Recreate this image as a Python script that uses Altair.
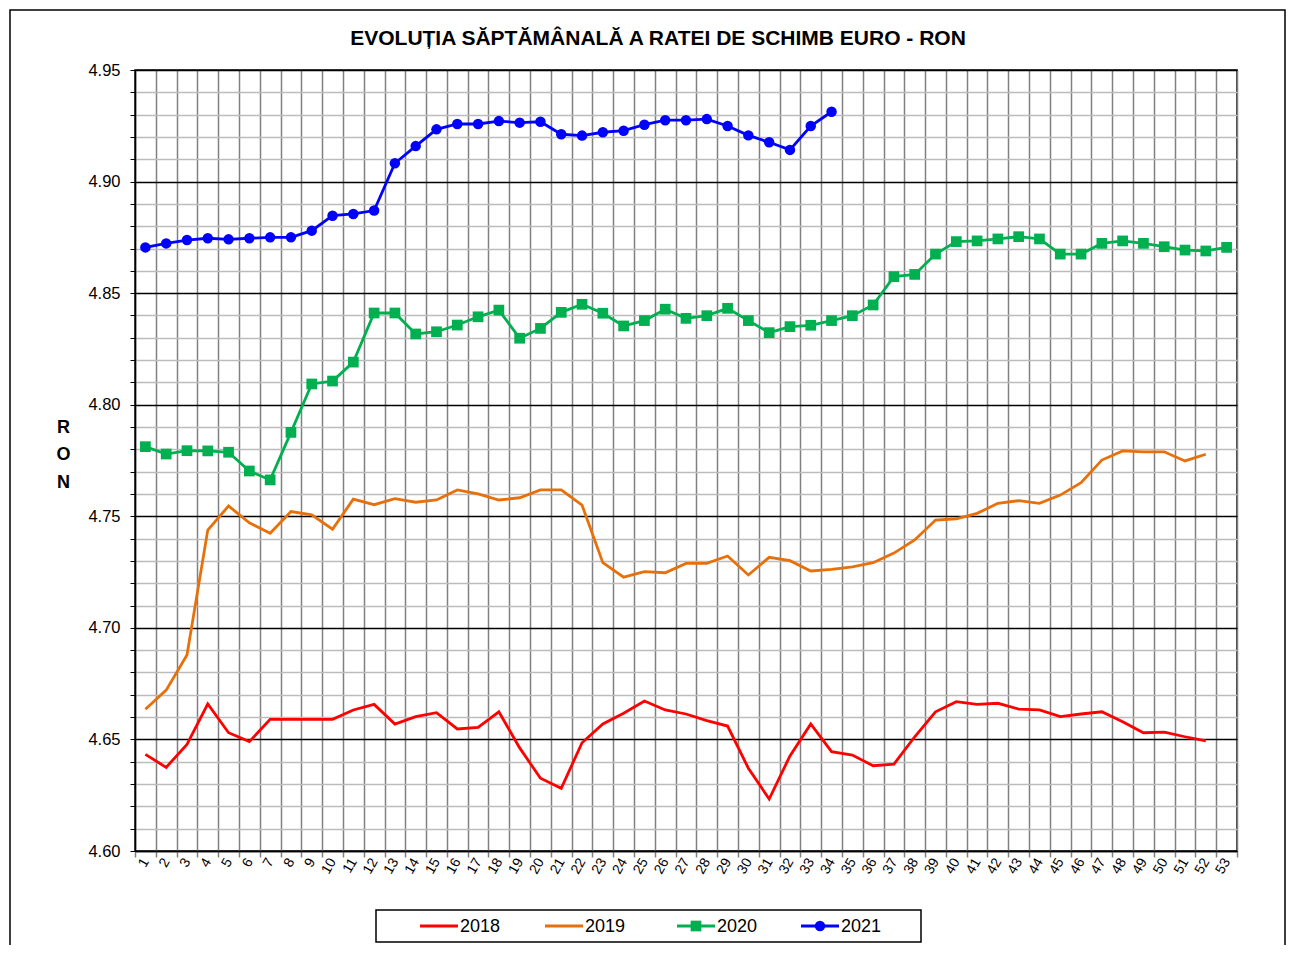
import altair as alt
import pandas as pd

TITLE = "EVOLUȚIA SĂPTĂMÂNALĂ A RATEI DE SCHIMB EURO - RON"
years = ["2018", "2019", "2020", "2021"]
colors = ["#ff0000", "#e8700a", "#00b050", "#0000ff"]
markers = [None, None, "square", "circle"]

r2018 = [4.6433, 4.6375, 4.6478, 4.6659, 4.6530, 4.6490, 4.6590, 4.6590, 4.6590, 4.6590,
         4.6632, 4.6657, 4.6569, 4.6602, 4.6620, 4.6547, 4.6554, 4.6624, 4.6462, 4.6326,
         4.6281, 4.6485, 4.6569, 4.6617, 4.6672, 4.6632, 4.6614, 4.6584, 4.6560, 4.6371,
         4.6233, 4.6426, 4.6569, 4.6445, 4.6430, 4.6382, 4.6389, 4.6512, 4.6624, 4.6669,
         4.6657, 4.6662, 4.6636, 4.6632, 4.6602, 4.6614, 4.6624, 4.6579, 4.6530, 4.6533,
         4.6512, 4.6494]
r2019 = [4.6635, 4.6721, 4.6878, 4.7438, 4.7546, 4.7471, 4.7424, 4.7521, 4.7506, 4.7442,
         4.7577, 4.7552, 4.7579, 4.7563, 4.7573, 4.7618, 4.7600, 4.7573, 4.7583, 4.7618,
         4.7618, 4.7550, 4.7292, 4.7227, 4.7252, 4.7247, 4.7289, 4.7289, 4.7322, 4.7237,
         4.7316, 4.7301, 4.7255, 4.7262, 4.7273, 4.7292, 4.7335, 4.7394, 4.7483, 4.7489,
         4.7513, 4.7558, 4.7570, 4.7558, 4.7595, 4.7651, 4.7752, 4.7793, 4.7789, 4.7789,
         4.7748, 4.7778]
r2020 = [4.7812, 4.7779, 4.7794, 4.7793, 4.7787, 4.7703, 4.7663, 4.7876, 4.8093, 4.8106,
         4.8191, 4.8411, 4.8411, 4.8317, 4.8327, 4.8357, 4.8394, 4.8424, 4.8298, 4.8342,
         4.8414, 4.8450, 4.8410, 4.8353, 4.8377, 4.8428, 4.8387, 4.8399, 4.8432, 4.8377,
         4.8323, 4.8350, 4.8356, 4.8377, 4.8399, 4.8447, 4.8574, 4.8584, 4.8675, 4.8731,
         4.8734, 4.8743, 4.8753, 4.8743, 4.8675, 4.8675, 4.8723, 4.8734, 4.8723, 4.8708,
         4.8693, 4.8689, 4.8705]
r2021 = [4.8705, 4.8723, 4.8738, 4.8746, 4.8741, 4.8746, 4.8750, 4.8750, 4.8780, 4.8847,
         4.8855, 4.8870, 4.9082, 4.9159, 4.9234, 4.9258, 4.9258, 4.9271, 4.9264, 4.9268,
         4.9212, 4.9206, 4.9221, 4.9228, 4.9255, 4.9275, 4.9275, 4.9280, 4.9249, 4.9207,
         4.9176, 4.9142, 4.9249, 4.9313]

y_ticks = [round(4.60 + 0.01 * i, 2) for i in range(36)]
x_bounds = [i + 0.5 for i in range(54)]

rows = []
for yr, vals in zip(years, [r2018, r2019, r2020, r2021]):
    for i, v in enumerate(vals):
        rows.append({"week": i + 1, "year": yr, "value": v})
df = pd.DataFrame(rows)

FONT = "Liberation Sans"
major = "abs(datum.value*20 - round(datum.value*20)) < 0.01"

xscale = alt.Scale(domain=[0.5, 53.5], nice=False, zero=False)
yscale = alt.Scale(domain=[4.60, 4.95], nice=False, zero=False)

x_axis = alt.Axis(
    values=x_bounds, grid=True, gridColor="#808080", gridWidth=1.5,
    ticks=True, tickColor="#808080", tickSize=6, tickWidth=1.5,
    domainColor="black", domainWidth=1.5,
    labelExpr="datum.value < 53 ? '' + (datum.value + 0.5) : ''",
    labelOffset=10.4, labelAngle=-60, labelAlign="right", labelBaseline="middle",
    labelFont=FONT, labelFontSize=14, labelColor="black", labelPadding=2,
    labelOverlap=False, title=None,
)
y_axis = alt.Axis(
    values=y_ticks, grid=True,
    gridColor={"condition": {"test": major, "value": "black"}, "value": "#bcbcbc"},
    gridWidth=1.5,
    tickColor="black", tickSize=5, tickWidth=1,
    domainColor="black", domainWidth=1.5,
    labelExpr=major + " ? format(datum.value, '.2f') : ''",
    labelFont=FONT, labelFontSize=16.5, labelColor="black", labelPadding=10,
    labelOverlap=False,
    title=["R", "O", "N"], titleAngle=0, titleFont=FONT, titleFontSize=18,
    titleFontWeight="bold", titleX=-72, titleY=348, titleAlign="center",
    titleBaseline="top", titleLineHeight=27.5, titleColor="black",
)

X = alt.X("week:Q", scale=xscale, axis=x_axis)
Y = alt.Y("value:Q", scale=yscale, axis=y_axis)

base = alt.Chart(df)

lines = base.mark_line(strokeWidth=2.8).encode(
    x=X, y=Y,
    stroke=alt.Stroke("year:N", scale=alt.Scale(domain=years, range=colors), legend=None),
    detail="year:N",
)

squares = base.transform_filter("datum.year == '2020'").mark_square(
    size=115, color="#00b050", opacity=1
).encode(x=X, y=Y)

circles = base.transform_filter("datum.year == '2021'").mark_circle(
    size=110, color="#0000ff", opacity=1
).encode(x=X, y=Y)

one = alt.Data(values=[{"k": 1}])

frame = alt.Chart(one).mark_rect(
    filled=False, stroke="black", strokeWidth=1.5
).encode(
    x=alt.value(-125), x2=alt.value(1150), y=alt.value(-60), y2=alt.value(900)
)

# legend (drawn as a boxed row of line/marker samples and labels)
leg_box = alt.Chart(one).mark_rect(
    filled=False, stroke="black", strokeWidth=1.5
).encode(
    x=alt.value(241), x2=alt.value(786), y=alt.value(840), y2=alt.value(872)
)
leg_start = [285, 410, 542, 666]
leg_line_len = 38
leg_y = 856
legend_layers = [leg_box]
for yr, col, mk, x0 in zip(years, colors, markers, leg_start):
    legend_layers.append(
        alt.Chart(one).mark_rule(strokeWidth=2.8, color=col).encode(
            x=alt.value(x0), x2=alt.value(x0 + leg_line_len), y=alt.value(leg_y)
        )
    )
    if mk == "square":
        legend_layers.append(
            alt.Chart(one).mark_square(size=115, color=col, opacity=1).encode(
                x=alt.value(x0 + leg_line_len / 2), y=alt.value(leg_y)
            )
        )
    elif mk == "circle":
        legend_layers.append(
            alt.Chart(one).mark_circle(size=110, color=col, opacity=1).encode(
                x=alt.value(x0 + leg_line_len / 2), y=alt.value(leg_y)
            )
        )
    legend_layers.append(
        alt.Chart(one).mark_text(
            font=FONT, fontSize=18, color="black", align="left", baseline="middle"
        ).encode(
            x=alt.value(x0 + leg_line_len + 2), y=alt.value(leg_y + 1), text=alt.value(yr)
        )
    )

title = alt.Chart(one).mark_text(
    font=FONT, fontSize=21, fontWeight="bold", color="black",
    align="center", baseline="alphabetic"
).encode(
    x=alt.value(523), y=alt.value(-25), text=alt.value(TITLE)
)

chart = alt.layer(lines, squares, circles, frame, title, *legend_layers).properties(
    width=1102,
    height=781,
    padding={"left": 127, "top": 62, "right": 49, "bottom": 94},
    autosize=alt.AutoSizeParams(type="none"),
    background="white",
).configure_view(
    stroke="black", strokeWidth=1.5
)

chart.save("out.html", embed_options={"renderer": "svg", "actions": False})
